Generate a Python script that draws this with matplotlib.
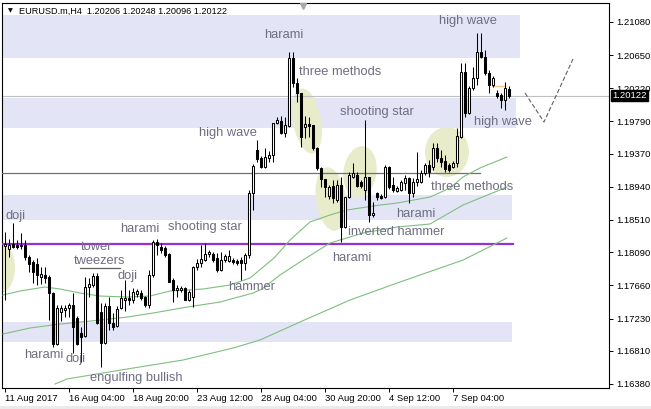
import matplotlib
matplotlib.use("Agg")
import matplotlib.pyplot as plt
from matplotlib.patches import Ellipse, Rectangle
from matplotlib.transforms import ScaledTranslation, blended_transform_factory

symbol = "EURUSD.m,H4"

opens = [
    1.18171, 1.18132, 1.18197, 1.18184, 1.18171, 1.18184, 1.18028, 1.17963, 1.17937, 1.17769,
    1.17795, 1.17769, 1.17561, 1.16899, 1.17314, 1.17340, 1.17366, 1.17405, 1.17236, 1.17042,
    1.17003, 1.17639, 1.17665, 1.17782, 1.17314, 1.16912, 1.17392, 1.17171, 1.17133, 1.17366,
    1.17470, 1.17496, 1.17470, 1.17548, 1.17561, 1.17509, 1.17405, 1.17795, 1.18223, 1.18158,
    1.18145, 1.18067, 1.17730, 1.17600, 1.17600, 1.17626, 1.17470, 1.17509, 1.17898, 1.17950,
    1.17989, 1.18067, 1.18067, 1.18015, 1.17860, 1.17989, 1.17976, 1.17989, 1.17976, 1.17989,
    1.17950, 1.18054, 1.18859, 1.19418, 1.19314, 1.19197, 1.19314, 1.19353, 1.19768, 1.19794,
    1.19638, 1.19729, 1.20612, 1.20287, 1.20158, 1.19716, 1.19755, 1.19742, 1.19444, 1.19184,
    1.19041, 1.18820, 1.18950, 1.18768, 1.18963, 1.18418, 1.18807, 1.19067, 1.19093, 1.19002,
    1.18898, 1.19067, 1.18574, 1.18859, 1.18820, 1.18807, 1.19197, 1.18963, 1.18885, 1.18898,
    1.18989, 1.19054, 1.18859, 1.19002, 1.19002, 1.19119, 1.19223, 1.19197, 1.19444, 1.19314,
    1.19275, 1.19223, 1.19197, 1.19249, 1.19586, 1.20430, 1.19898, 1.20222, 1.20352, 1.20690,
    1.20625, 1.20417, 1.20261, 1.20158, 1.20132, 1.20067, 1.20206]

highs = [
    1.18353, 1.18262, 1.18470, 1.18249, 1.18340, 1.18249, 1.18054, 1.17989, 1.18015, 1.17898,
    1.17898, 1.17795, 1.17574, 1.17405, 1.17405, 1.17405, 1.17431, 1.17561, 1.17262, 1.17120,
    1.17769, 1.17756, 1.17821, 1.17821, 1.17431, 1.17431, 1.17509, 1.17301, 1.17392, 1.17600,
    1.17730, 1.17600, 1.17626, 1.17613, 1.17600, 1.17522, 1.17860, 1.18249, 1.18262, 1.18210,
    1.18171, 1.18080, 1.17756, 1.17665, 1.17652, 1.17639, 1.17600, 1.17911, 1.18002, 1.18184,
    1.18210, 1.18119, 1.18093, 1.18080, 1.18093, 1.18067, 1.18119, 1.18015, 1.18002, 1.18028,
    1.18080, 1.18898, 1.19236, 1.19547, 1.19340, 1.19444, 1.19405, 1.19768, 1.19846, 1.19859,
    1.19846, 1.20690, 1.20690, 1.20352, 1.20158, 1.19859, 1.19846, 1.19742, 1.19457, 1.19197,
    1.19041, 1.18963, 1.19028, 1.19028, 1.19067, 1.18807, 1.19132, 1.19249, 1.19132, 1.19028,
    1.19807, 1.19067, 1.18742, 1.18872, 1.18846, 1.19223, 1.19210, 1.19067, 1.18950, 1.19028,
    1.19093, 1.19067, 1.19054, 1.19392, 1.19158, 1.19249, 1.19288, 1.19508, 1.19508, 1.19418,
    1.19353, 1.19249, 1.19275, 1.19703, 1.20547, 1.20547, 1.20248, 1.20495, 1.20937, 1.20937,
    1.20716, 1.20456, 1.20378, 1.20197, 1.20158, 1.20300, 1.20248]

lows = [
    1.17470, 1.18028, 1.18145, 1.18132, 1.18132, 1.17989, 1.17834, 1.17691, 1.17665, 1.17678,
    1.17691, 1.17210, 1.16860, 1.16886, 1.17197, 1.17249, 1.17249, 1.16782, 1.16886, 1.16665,
    1.16990, 1.17509, 1.17639, 1.17158, 1.16600, 1.16899, 1.17081, 1.17081, 1.17120, 1.17353,
    1.17327, 1.17405, 1.17431, 1.17509, 1.17470, 1.17379, 1.17366, 1.17769, 1.18054, 1.18080,
    1.18028, 1.17704, 1.17444, 1.17509, 1.17574, 1.17470, 1.17457, 1.17379, 1.17860, 1.17898,
    1.17976, 1.18028, 1.17963, 1.17834, 1.17847, 1.17963, 1.17963, 1.17937, 1.17924, 1.17730,
    1.17860, 1.18015, 1.18639, 1.19262, 1.19184, 1.19184, 1.19262, 1.19262, 1.19755, 1.19625,
    1.19586, 1.19716, 1.20235, 1.20041, 1.19457, 1.19573, 1.19586, 1.19418, 1.19158, 1.18937,
    1.18807, 1.18781, 1.18729, 1.18742, 1.18223, 1.18405, 1.18794, 1.19054, 1.18937, 1.18924,
    1.18768, 1.18483, 1.18548, 1.18768, 1.18781, 1.18794, 1.18911, 1.18872, 1.18872, 1.18885,
    1.18898, 1.18729, 1.18807, 1.18950, 1.18989, 1.19093, 1.19067, 1.19158, 1.19262, 1.19197,
    1.19132, 1.19132, 1.19184, 1.19197, 1.19573, 1.19846, 1.19885, 1.20197, 1.20261, 1.20612,
    1.20391, 1.20158, 1.20235, 1.20093, 1.19963, 1.19937, 1.20096]

closes = [
    1.18197, 1.18184, 1.18158, 1.18158, 1.18184, 1.18028, 1.17937, 1.17834, 1.17795, 1.17808,
    1.17756, 1.17561, 1.16899, 1.17366, 1.17366, 1.17366, 1.17405, 1.17120, 1.16899, 1.16990,
    1.17639, 1.17678, 1.17782, 1.17171, 1.16912, 1.17392, 1.17171, 1.17120, 1.17353, 1.17496,
    1.17496, 1.17470, 1.17574, 1.17587, 1.17496, 1.17405, 1.17795, 1.18223, 1.18184, 1.18119,
    1.18054, 1.17704, 1.17600, 1.17626, 1.17626, 1.17470, 1.17574, 1.17898, 1.17950, 1.18002,
    1.18067, 1.18093, 1.17989, 1.17860, 1.17989, 1.18041, 1.18041, 1.17963, 1.17950, 1.17950,
    1.18054, 1.18859, 1.19210, 1.19301, 1.19197, 1.19327, 1.19353, 1.19768, 1.19807, 1.19638,
    1.19742, 1.20612, 1.20287, 1.20158, 1.19586, 1.19755, 1.19729, 1.19444, 1.19184, 1.19041,
    1.18937, 1.18937, 1.18794, 1.18963, 1.18418, 1.18807, 1.19093, 1.19119, 1.18950, 1.18950,
    1.19067, 1.18574, 1.18600, 1.18807, 1.18794, 1.19197, 1.18937, 1.18898, 1.18924, 1.19002,
    1.19054, 1.18859, 1.19002, 1.19041, 1.19119, 1.19223, 1.19132, 1.19444, 1.19314, 1.19262,
    1.19171, 1.19158, 1.19249, 1.19599, 1.20430, 1.19898, 1.20222, 1.20352, 1.20690, 1.20625,
    1.20417, 1.20261, 1.20352, 1.20119, 1.20067, 1.20222, 1.20122]

time_labels = ["11 Aug 2017", "16 Aug 04:00", "18 Aug 20:00", "23 Aug 12:00",
               "28 Aug 04:00", "30 Aug 20:00", "4 Sep 12:00", "7 Sep 04:00"]
time_label_bars = [0, 16, 32, 48, 64, 80, 96, 112]

price_ticks = [1.21080, 1.20650, 1.20220, 1.19790, 1.19370, 1.18940,
               1.18510, 1.18090, 1.17660, 1.17230, 1.16810, 1.16380]

# moving averages (bar position, price)
fast_ma_x = [-0.5, 3.75, 10, 13.75, 18.75, 23.75, 30.5, 36.25, 41.25, 49.5, 56.25, 61.25,
             64.25, 67.5, 71.25, 76.25, 81.25, 85.5, 93.75, 98, 106.25, 111.25, 114.5, 118.75, 125.5]
fast_ma = [1.17535, 1.17587, 1.17639, 1.17613, 1.17561, 1.17522, 1.17509, 1.17522, 1.17587,
           1.17613, 1.17665, 1.17756, 1.17885, 1.18028, 1.18249, 1.18483, 1.18574, 1.18639,
           1.18703, 1.18729, 1.18807, 1.18924, 1.19067, 1.19184, 1.19327]
mid_ma_x = [-0.5, 6.25, 13.75, 23.75, 30.5, 37, 45.5, 53.75, 62, 64.25, 68.75, 74.5, 81.25,
            89.5, 98, 106.25, 114.5, 125.5]
mid_ma = [1.17029, 1.17107, 1.17158, 1.17210, 1.17249, 1.17301, 1.17379, 1.17444, 1.17561,
          1.17613, 1.17795, 1.17989, 1.18210, 1.18340, 1.18418, 1.18457, 1.18703, 1.18937]
slow_ma_x = [12.5, 15.5, 32, 44.5, 57, 63.75, 73.75, 86.25, 98.75, 114.5, 125.5]
slow_ma = [1.16380, 1.16445, 1.16587, 1.16691, 1.16847, 1.16951, 1.17185, 1.17470,
           1.17704, 1.17989, 1.18275]

# drawn objects
zones = [(1.21170, 1.20612, 128.75), (1.20093, 1.19703, 127.75),
         (1.18833, 1.18509, 126.75), (1.17184, 1.16925, 126.75)]
purple_level = 1.18197
purple_end = 127.0
gray_level = 1.19119
gray_end = 118.75
tweezers_level = 1.17885
tweezers_span = (18.75, 28.75)
high_mark_level = 1.20248
high_mark_span = (121.75, 125.0)
proj_x = [130, 134.75, 142]
proj_y = [1.20158, 1.19781, 1.20599]

# ellipses: bar, price, width px, height px, angle
ellipses = [(-1.25, 1.17885, 30, 50, 0), (75.5, 1.19794, 28, 66, 10),
            (81.5, 1.18781, 30, 64, 8), (88.75, 1.19132, 33, 52, -8),
            (110.5, 1.19392, 44, 50, 0)]

pattern_labels = [
    ("doji", 2.75, 1.18561), ("harami", 33.75, 1.18392), ("shooting star", 50, 1.18418),
    ("tower", 23, 1.18158), ("tweezers", 23.75, 1.17976), ("doji", 30.75, 1.17782),
    ("hammer", 61.75, 1.17639), ("harami", 9.75, 1.16756), ("doji", 17.75, 1.16704),
    ("engulfing bullish", 32.75, 1.16458), ("harami", 69.75, 1.20910),
    ("three methods", 83.75, 1.20430), ("high wave", 55.75, 1.19638),
    ("shooting star", 93, 1.19911), ("three methods", 116.75, 1.18937),
    ("harami", 102.75, 1.18587), ("inverted hammer", 97.75, 1.18353),
    ("harami", 86.75, 1.18015), ("high wave", 115.75, 1.21092), ("high wave", 124.5, 1.19781),
]

W, H = 651, 409
fig = plt.figure(figsize=(W / 100, H / 100), dpi=100)
fig.patch.set_facecolor("white")
ax = fig.add_axes([2 / W, 21 / H, 607 / W, 385 / H])
ax.set_facecolor("white")
ax.set_xlim(-0.75, 151)
ax.set_ylim(1.16328, 1.21326)

x0 = -0.75
for top, bottom, end in zones:
    ax.add_patch(Rectangle((x0, bottom), end - x0, top - bottom, facecolor="#E4E4F7",
                           edgecolor="none", zorder=1))

for bx, py, w, h, ang in ellipses:
    e = Ellipse((0, 0), w / 100, h / 100, angle=ang,
                transform=fig.dpi_scale_trans + ScaledTranslation(bx, py, ax.transData),
                facecolor="#E8ECCA", edgecolor="none", zorder=2)
    ax.add_patch(e)

ax.axhline(closes[-1], color="#C0C0C0", lw=0.8, zorder=2.5)
ax.plot([x0, gray_end], [gray_level, gray_level], color="#707070", lw=0.9, zorder=3)
ax.plot([x0, purple_end], [purple_level, purple_level], color="#9932CC", lw=1.6, zorder=3)
ax.plot(list(tweezers_span), [tweezers_level] * 2, color="#606060", lw=0.9, zorder=3)
ax.plot(list(high_mark_span), [high_mark_level] * 2, color="#F2C68E", lw=0.9, zorder=3)
ax.plot(proj_x, proj_y, color="#606060", lw=0.8, ls=(0, (4, 2)), zorder=3)

for mx, my in ((fast_ma_x, fast_ma), (mid_ma_x, mid_ma), (slow_ma_x, slow_ma)):
    ax.plot(mx, my, color="#7FBF7F", lw=0.8, zorder=3.5)

xs = list(range(len(opens)))
ax.vlines(xs, lows, highs, color="black", lw=0.75, zorder=4)
bottoms = [min(o, c) for o, c in zip(opens, closes)]
heights = [abs(c - o) for o, c in zip(opens, closes)]
faces = ["white" if c >= o else "black" for o, c in zip(opens, closes)]
ax.bar(xs, heights, bottom=bottoms, width=0.55, color=faces, edgecolor="black",
       linewidth=0.75, zorder=5)

for txt, bx, py in pattern_labels:
    ax.text(bx, py, txt, ha="center", va="center", fontsize=9.3, color="#6E6E82",
            family="Liberation Sans", zorder=7)

for s in ax.spines.values():
    s.set_color("black")
    s.set_linewidth(0.8)

ax.yaxis.tick_right()
ax.set_yticks(price_ticks)
ax.set_yticklabels([f"{p:.5f}" for p in price_ticks], family="Liberation Sans", fontsize=6.8)
ax.set_xticks(time_label_bars)
ax.set_xticklabels(time_labels, family="Liberation Sans", fontsize=6.8, ha="left")
ax.tick_params(axis="both", direction="out", length=3, width=0.7, color="black", pad=1.5)
ax.tick_params(axis="y", pad=2)

tr = blended_transform_factory(ax.transAxes, ax.transData)
ax.text(1.0 + 3 / 607, closes[-1], f"{closes[-1]:.5f}", transform=tr, ha="left", va="center",
        color="white", fontsize=6.8, family="Liberation Sans", zorder=10, clip_on=False,
        bbox=dict(boxstyle="square,pad=0.12", fc="black", ec="black"))

ax.plot([0.496], [0.992], marker="v", ms=5, color="#A8A8A8", transform=ax.transAxes,
        clip_on=False, zorder=10)

fig.text(8 / W, 1 - 11 / H, "\u25bc", fontsize=4.5, va="center", ha="left", color="black",
         family="DejaVu Sans")
fig.text(19 / W, 1 - 11 / H,
         f"{symbol}  {opens[-1]:.5f} {highs[-1]:.5f} {lows[-1]:.5f} {closes[-1]:.5f}",
         fontsize=6.6, va="center", ha="left", color="black", family="Liberation Sans")
fig.add_artist(Rectangle((0, 0), 1, 3 / H, transform=fig.transFigure, facecolor="#EBEBEB",
                         edgecolor="none"))

fig.savefig("out.png", dpi=100)
